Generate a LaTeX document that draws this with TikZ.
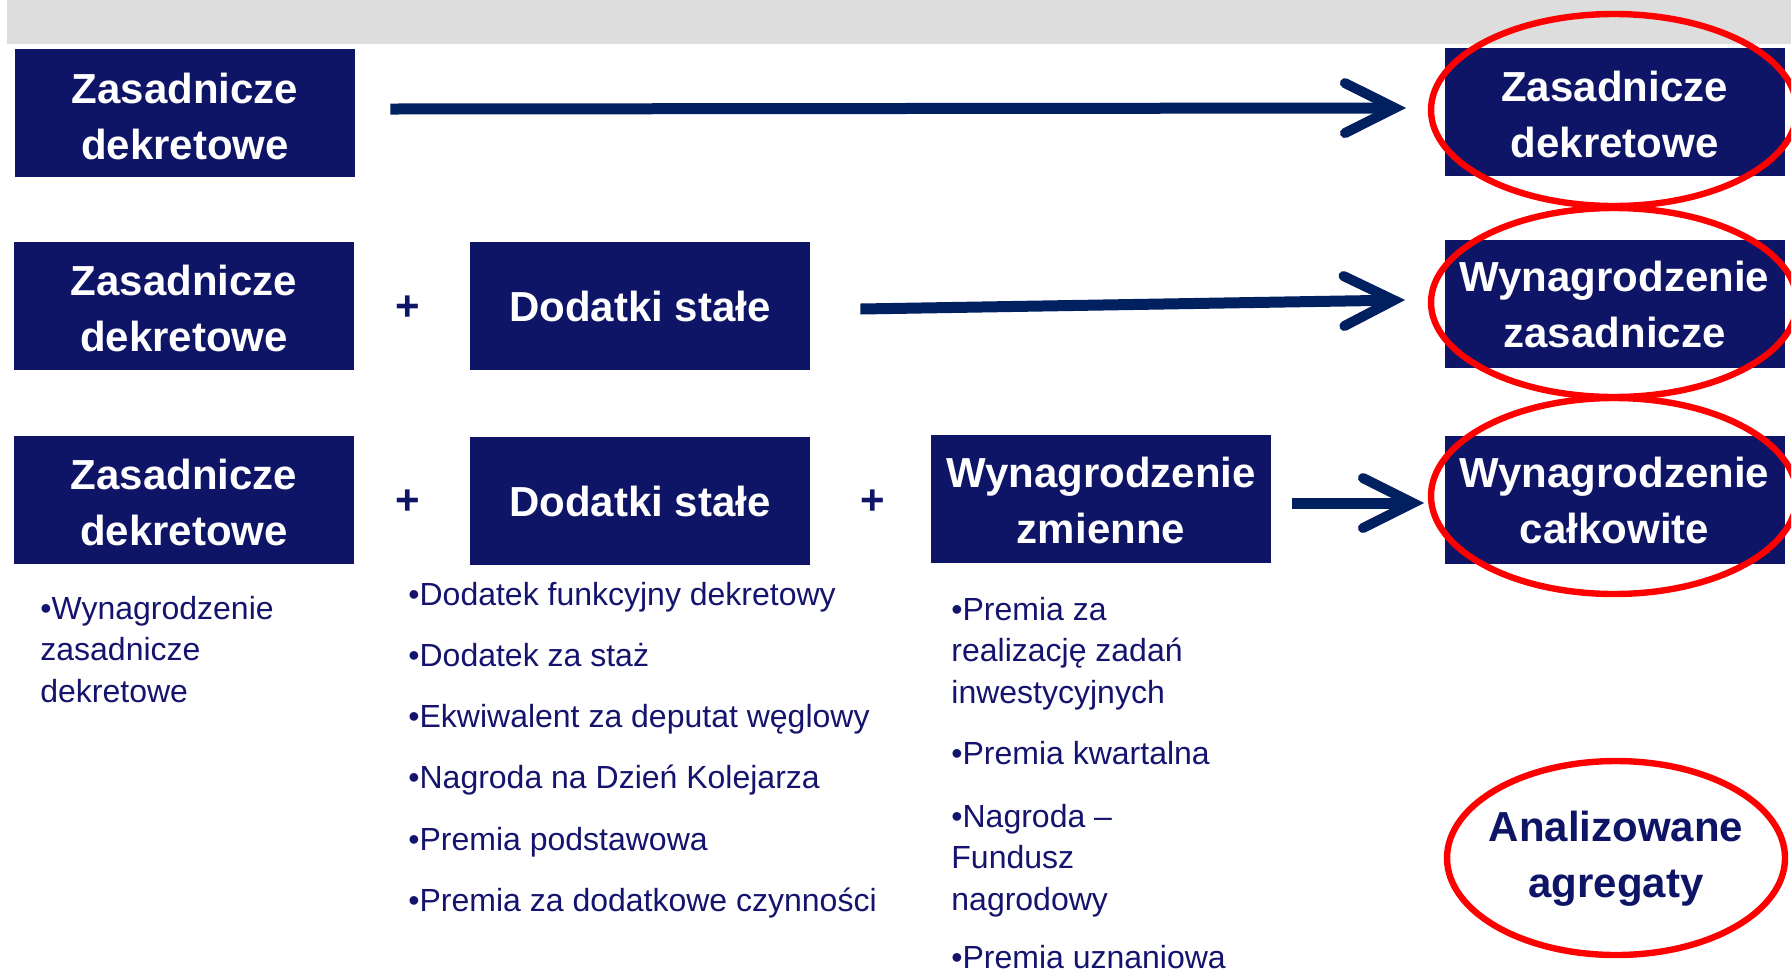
\documentclass[tikz,border=0pt]{standalone}
\usepackage{fontspec}
\setmainfont{Liberation Sans}
\usetikzlibrary{arrows.meta,shapes.geometric}
\definecolor{boxnavy}{RGB}{14,20,102}
\definecolor{arrownavy}{RGB}{0,32,96}
\definecolor{textnavy}{RGB}{20,20,110}
\definecolor{bandgrey}{RGB}{221,221,221}
\definecolor{ringred}{RGB}{255,0,0}
\begin{document}
\begin{tikzpicture}[x=0.5pt,y=-0.5pt,
  box/.style={fill=boxnavy, text=white, minimum width=170pt, minimum height=64pt, inner sep=0pt, align=center, font=\fontsize{21pt}{28pt}\selectfont\bfseries},
  boxtext/.style={text=white, inner sep=0pt, align=center, font=\fontsize{21pt}{28pt}\selectfont\bfseries},
  plus/.style={text=boxnavy, inner sep=0pt, font=\fontsize{21pt}{25pt}\selectfont\bfseries},
  item/.style={text=textnavy, inner sep=0pt, anchor=base west, align=left, font=\fontsize{16pt}{20.75pt}\selectfont},
  conn/.style={draw=arrownavy, line width=5.5pt, -{Straight Barb[length=25pt,width=25pt,line width=5pt,line cap=round,line join=miter]}},
  ring/.style={draw=ringred, line width=3.2pt},
]
\useasboundingbox (0,0) rectangle (1791,976);
\fill[bandgrey] (7,0) rectangle (1791,44);

% row 1
\node[box] (a1) at (185,113) {};
\node[boxtext] (a1t) at (185,116) {Zasadnicze\\dekretowe};
\node[box] (r1) at (1614.5,112) {};
\node[boxtext] (r1t) at (1614.5,114) {Zasadnicze\\dekretowe};
\draw[conn] ([xshift=17.5pt,yshift=2pt]a1.east) -- ([xshift=-19pt,yshift=2pt]r1.west);

% row 2
\node[box] (a2) at (184,306) {};
\node[boxtext] (a2t) at (184,308) {Zasadnicze\\dekretowe};
\node[plus] (p2) at (408,308) {+};
\node[box] (d2) at (640,306) {Dodatki stałe};
\node[box] (r2) at (1614.5,304) {};
\node[boxtext] (r2t) at (1614.5,304) {Wynagrodzenie\\zasadnicze};
\draw[conn] ([xshift=25pt,yshift=-1.5pt]d2.east) -- ([xshift=-19.5pt,yshift=2pt]r2.west);

% row 3
\node[box] (a3) at (184,500) {};
\node[boxtext] (a3t) at (184,502) {Zasadnicze\\dekretowe};
\node[plus] (p3a) at (408,502) {+};
\node[box] (d3) at (640,501) {Dodatki stałe};
\node[plus] (p3b) at (873,502) {+};
\node[box] (z3) at (1101,499) {};
\node[boxtext] (z3t) at (1101,500) {Wynagrodzenie\\zmienne};
\node[box] (r3) at (1614.5,499.5) {};
\node[boxtext] (r3t) at (1614.5,500) {Wynagrodzenie\\całkowite};
\draw[conn] ([xshift=10.5pt,yshift=-2pt]z3.east) -- ([xshift=-10pt,yshift=-1.75pt]r3.west);

% red rings
\draw[ring] (1614,110) ellipse [x radius=91.5pt, y radius=48pt];
\draw[ring] (1614,302.5) ellipse [x radius=91.5pt, y radius=47.25pt];
\draw[ring] (1614,496) ellipse [x radius=91.5pt, y radius=49pt];
\node[inner sep=0pt, text=boxnavy, align=center, font=\fontsize{21pt}{28pt}\selectfont\bfseries] (agg) at (1616,858.5) {Analizowane\\agregaty};
\draw[ring] (1616,858) ellipse [x radius=84.5pt, y radius=48.5pt];

% lists
\node[item] (c1) at (40,702) {•Wynagrodzenie\\zasadnicze\\dekretowe};
\node[item] (c2a) at (408,605) {•Dodatek funkcyjny dekretowy};
\node[item] (c2b) at (408,666) {•Dodatek za staż};
\node[item] (c2c) at (408,727) {•Ekwiwalent za deputat węglowy};
\node[item] (c2d) at (408,788) {•Nagroda na Dzień Kolejarza};
\node[item] (c2e) at (408,850) {•Premia podstawowa};
\node[item] (c2f) at (408,911) {•Premia za dodatkowe czynności};
\node[item] (c3a) at (951,703) {•Premia za\\realizację zadań\\inwestycyjnych};
\node[item] (c3b) at (951,764) {•Premia kwartalna};
\node[item] (c3c) at (951,910) {•Nagroda –\\Fundusz\\nagrodowy};
\node[item] (c3d) at (951,968) {•Premia uznaniowa};
\end{tikzpicture}
\end{document}
